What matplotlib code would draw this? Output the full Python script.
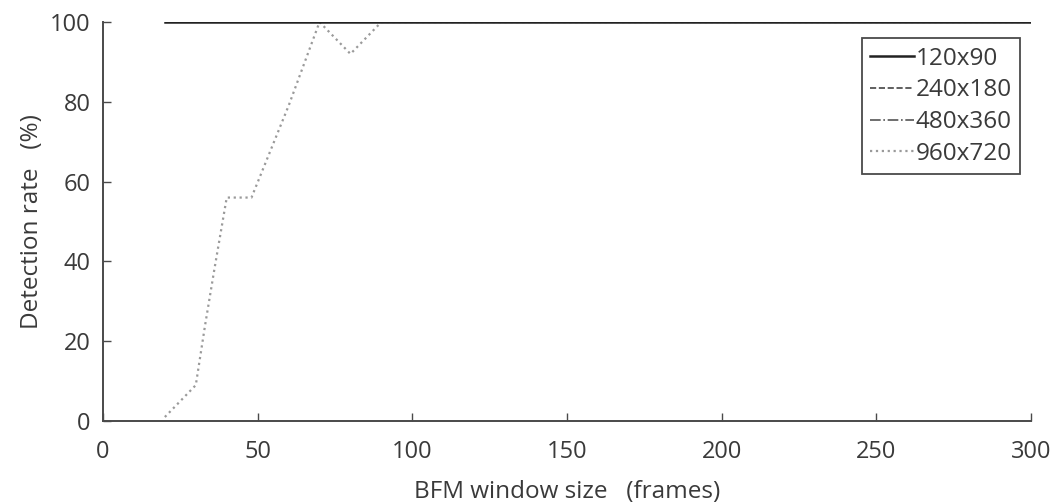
import matplotlib
matplotlib.use("Agg")
import matplotlib.pyplot as plt

# Data
window_120 = [20, 300]
rate_120 = [100, 100]
window_240 = [20, 300]
rate_240 = [100, 100]
window_480 = [20, 300]
rate_480 = [100, 100]
window_960 = [20, 25, 30, 33, 36, 40, 48, 60, 70, 80, 90, 100, 150, 200, 250, 300]
rate_960 = [1, 5, 9, 24, 38, 56, 56, 79, 100, 92, 100, 100, 100, 100, 100, 100]
labels = ["120x90", "240x180", "480x360", "960x720"]
xticks = [0, 50, 100, 150, 200, 250, 300]
yticks = [0, 20, 40, 60, 80, 100]

plt.rcParams['font.family'] = ['Open Sans', 'DejaVu Sans']
txt = '#3a3a3a'
ax_col = '#4a4a4a'

fig = plt.figure(figsize=(10.53, 5.04), dpi=100)
ax = fig.add_axes([103/1053, 1 - 421/504, (1031-103)/1053, (421-22)/504])

ax.plot(window_960, rate_960, linestyle=':', color='#9a9a9a', lw=1.6, label=labels[3])
ax.plot(window_480, rate_480, linestyle='-.', color='#555555', lw=1.2, label=labels[2])
ax.plot(window_240, rate_240, linestyle='--', color='#444444', lw=1.2, label=labels[1])
ax.plot(window_120, rate_120, linestyle='-', color='#222222', lw=1.8, label=labels[0])

ax.set_xlim(0, 300)
ax.set_ylim(0, 100)
ax.set_xticks(xticks)
ax.set_yticks(yticks)
for s in ['top', 'right']:
    ax.spines[s].set_visible(False)
for s in ['left', 'bottom']:
    ax.spines[s].set_color(ax_col)
    ax.spines[s].set_linewidth(1.4)
ax.tick_params(axis='both', direction='in', colors=ax_col, labelcolor=txt, labelsize=17, length=6, width=1)
ax.tick_params(axis='x', pad=14)
ax.tick_params(axis='y', pad=9)

ax.set_xlabel("BFM window size   (frames)", fontsize=17.5, color=txt, labelpad=11)
ax.set_ylabel("Detection rate   (%)", fontsize=17.5, color=txt, labelpad=4)

handles, labs = ax.get_legend_handles_labels()
order = [3, 2, 1, 0]
leg = ax.legend([handles[i] for i in order], [labs[i] for i in order],
                loc='upper right', bbox_to_anchor=(1020/1053, 1 - 38/504),
                bbox_transform=fig.transFigure,
                fontsize=17.5, frameon=True, fancybox=False, framealpha=1,
                edgecolor=ax_col, handlelength=1.8, handletextpad=0.05,
                labelspacing=0.32, borderpad=0.35, borderaxespad=0)
leg.get_frame().set_linewidth(1.3)
for t in leg.get_texts():
    t.set_color(txt)

fig.savefig("out.png", dpi=100)
